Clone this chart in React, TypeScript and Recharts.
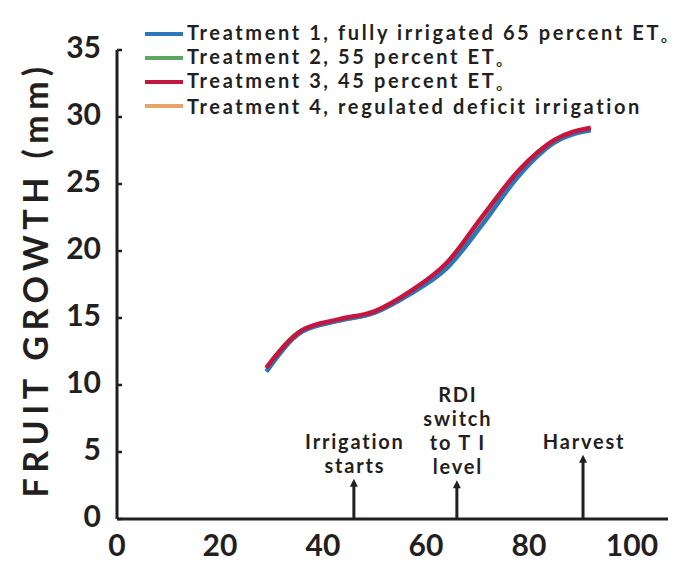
import { LineChart, Line, XAxis, YAxis, Legend, ReferenceLine } from "recharts";

const days = [29, 36, 43, 50, 57, 64, 71, 78, 85, 92];
const treatment1 = [11.0, 14.0, 14.8, 15.4, 16.8, 18.7, 22.0, 25.6, 28.1, 29.0];
const treatment2 = [11.2, 14.1, 14.8, 15.4, 16.9, 18.9, 22.3, 25.8, 28.2, 29.1];
const treatment3 = [11.3, 14.1, 14.9, 15.5, 17.0, 19.1, 22.6, 26.0, 28.3, 29.2];
const treatment4 = [11.2, 14.0, 14.8, 15.4, 16.9, 19.0, 22.4, 25.9, 28.2, 29.1];

const xTicks = [0, 20, 40, 60, 80, 100];
const yTicks = [0, 5, 10, 15, 20, 25, 30, 35];

const annotationDays = [46, 66, 90.5];
const annotationTops = [3.0, 2.9, 4.8];
const annotationTexts = [["Irrigation", "starts"], ["RDI", "switch", "to T I", "level"], ["Harvest"]];

const INK = "#231f20";
const FONT = "Lato, 'Open Sans', sans-serif";

const SERIES = [
  { key: "t2", name: "Treatment 2, 55 percent ET", color: "#5aa85e", order: 1 },
  { key: "t4", name: "Treatment 4, regulated deficit irrigation", color: "#e8a468", order: 3 },
  { key: "t1", name: "Treatment 1, fully irrigated 65 percent ET", color: "#2b78b8", order: 0 },
  { key: "t3", name: "Treatment 3, 45 percent ET", color: "#c4163f", order: 2 },
];

const data = days.map((d, i) => ({
  day: d,
  t1: treatment1[i],
  t2: treatment2[i],
  t3: treatment3[i],
  t4: treatment4[i],
}));

function YTick({ x, y, payload }: any) {
  return (
    <g>
      <line x1={x + 16} x2={x + 21} y1={y} y2={y} stroke={INK} strokeWidth={2.5} />
      <text x={x} y={y} dy={8} textAnchor="end" fill={INK} fontSize={30} fontWeight={700} fontFamily={FONT}>
        {payload.value}
      </text>
    </g>
  );
}

function XTick({ x, y, payload }: any) {
  return (
    <text x={x} y={y} dy={29} textAnchor="middle" fill={INK} fontSize={30} fontWeight={700} fontFamily={FONT}>
      {payload.value}
    </text>
  );
}

function LegendBox() {
  const rows = [...SERIES].sort((a, b) => a.order - b.order);
  return (
    <div style={{ fontFamily: FONT, fontWeight: 700, fontSize: 20, color: INK, letterSpacing: 2.6 }}>
      {rows.map((s) => (
        <div key={s.key} style={{ display: "flex", alignItems: "center", whiteSpace: "nowrap", height: 24 }}>
          <span style={{ display: "inline-block", width: 38, height: 4, background: s.color, marginRight: 4 }} />
          <span style={{ lineHeight: "24px" }}>
            {s.name}
            {s.key !== "t4" && <span style={{ fontSize: 10, position: "relative", top: 3 }}>o</span>}
          </span>
        </div>
      ))}
    </div>
  );
}

function Arrow(props: any, lines: string[]) {
  const { x1, y1, y2 } = props;
  const top = Math.min(y1, y2);
  const bottom = Math.max(y1, y2);
  return (
    <g>
      <line x1={x1} x2={x1} y1={bottom} y2={top + 4} stroke={INK} strokeWidth={3} />
      <polygon points={`${x1 - 4},${top + 8} ${x1 + 4},${top + 8} ${x1},${top}`} fill={INK} />
      {lines.map((t, i) => (
        <text
          key={t}
          x={x1 + 1}
          y={top - 6 - (lines.length - 1 - i) * 24}
          textAnchor="middle"
          fill={INK}
          fontSize={20}
          fontWeight={700}
          letterSpacing={1.8}
          fontFamily={FONT}
        >
          {t}
        </text>
      ))}
    </g>
  );
}

export default function App() {
  return (
    <div style={{ position: "absolute", left: 0, top: 0, width: 687, height: 561, background: "#fff" }}>
      <LineChart width={687} height={561} data={data} margin={{ top: 50, right: 19, bottom: 12, left: 0 }}>
        <XAxis
          dataKey="day"
          type="number"
          domain={[0, 107]}
          ticks={xTicks}
          tick={<XTick />}
          tickLine={false}
          axisLine={{ stroke: INK, strokeWidth: 3 }}
          height={30}
          interval={0}
        />
        <YAxis
          type="number"
          domain={[0, 35]}
          ticks={yTicks}
          tick={<YTick />}
          tickLine={false}
          tickSize={0}
          tickMargin={16}
          axisLine={{ stroke: INK, strokeWidth: 3 }}
          width={117}
          interval={0}
          label={{
            content: ({ viewBox }: any) => {
              const cy = viewBox.y + viewBox.height / 2 - 5;
              return (
                <text
                  x={34}
                  y={cy}
                  transform={`rotate(-90, 34, ${cy})`}
                  textAnchor="middle"
                  dominantBaseline="central"
                  fill={INK}
                  fontSize={34}
                  fontWeight={700}
                  letterSpacing={5.5}
                  fontFamily={FONT}
                >
                  FRUIT GROWTH (mm)
                </text>
              );
            },
          }}
        />
        <Legend
          layout="vertical"
          align="center"
          verticalAlign="middle"
          wrapperStyle={{ top: 22, left: 145, width: 542 }}
          content={<LegendBox />}
        />
        {annotationDays.map((d, i) => (
          <ReferenceLine
            key={d}
            segment={[
              { x: d, y: 0 },
              { x: d, y: annotationTops[i] },
            ]}
            ifOverflow="visible"
            shape={(p: any) => Arrow(p, annotationTexts[i])}
          />
        ))}
        {SERIES.map((s) => (
          <Line
            key={s.key}
            dataKey={s.key}
            name={s.name}
            type="monotone"
            stroke={s.color}
            strokeWidth={4.5}
            strokeLinejoin="round"
            dot={false}
            activeDot={false}
            isAnimationActive={false}
          />
        ))}
      </LineChart>
    </div>
  );
}
